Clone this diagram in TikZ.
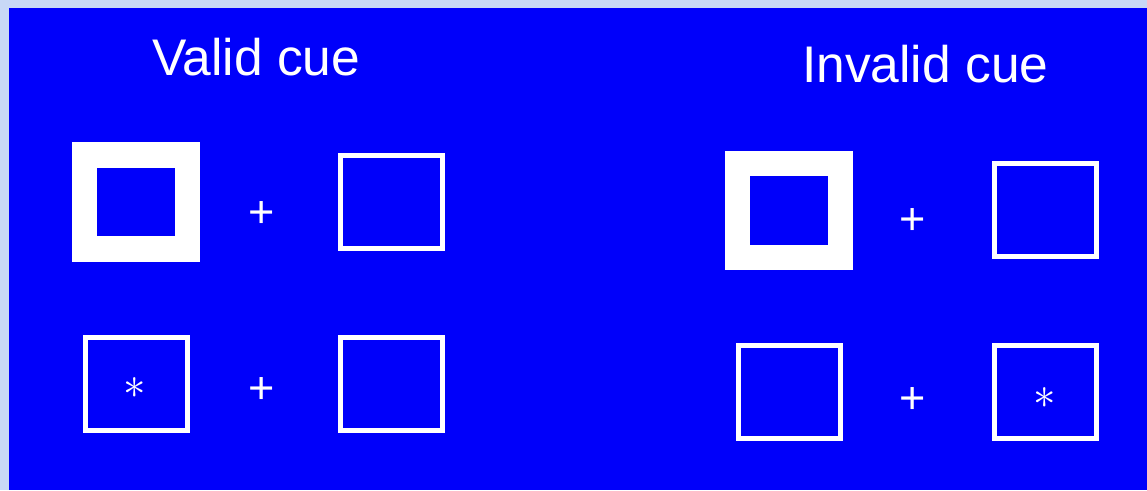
\documentclass[tikz,border=0pt]{standalone}
\usepackage{graphicx}
\usepackage{fontspec}
\setmainfont{Liberation Sans}
\definecolor{bgblue}{RGB}{0,0,250}
\definecolor{edge}{RGB}{200,216,246}
\tikzset{
  cuebox/.style={draw=white, line width=25.5pt, rectangle, inner sep=0pt, minimum width=103pt, minimum height=94pt},
  plainbox/.style={draw=white, line width=5pt, rectangle, inner sep=0pt, minimum width=102pt, minimum height=93pt},
  title/.style={text=white, inner sep=0pt, anchor=base west, font=\fontsize{51.5}{51.5}\selectfont},
  fixation/.style={text=white, inner sep=0pt, anchor=base, font=\fontsize{45}{45}\selectfont},
  target/.style={text=white, inner sep=0pt, anchor=center, font=\fontsize{10}{10}\selectfont}
}
\newcommand{\bigstarglyph}{\scalebox{4.5}{$\ast$}}
\begin{document}
\begin{tikzpicture}[x=1pt,y=-1pt]
\useasboundingbox (0,0) rectangle (1147,490);
\fill[edge] (0,0) rectangle (1147,490);
\fill[bgblue] (9,8) rectangle (1147,490);
% titles
\node[title] (tvalid) at (152,75) {Valid cue};
\node[title] (tinvalid) at (802,82) {Invalid cue};
% valid cue, top row
\node[cuebox] (v1) at (136,202) {};
\node[fixation] (vp1) at (262,227) {+};
\node[plainbox] (v2) at (391.5,202) {};
% valid cue, bottom row
\node[plainbox] (v3) at (136.5,384) {};
\node[target] (vs) at (135,388) {\bigstarglyph};
\node[fixation] (vp2) at (262,403) {+};
\node[plainbox] (v4) at (391.5,384) {};
% invalid cue, top row
\node[cuebox] (i1) at (789,210.5) {};
\node[fixation] (ip1) at (913,234) {+};
\node[plainbox] (i2) at (1045,210) {};
% invalid cue, bottom row
\node[plainbox] (i3) at (789,392) {};
\node[fixation] (ip2) at (913,413) {+};
\node[plainbox] (i4) at (1045,392) {};
\node[target] (is) at (1045,398) {\bigstarglyph};
\end{tikzpicture}
\end{document}
